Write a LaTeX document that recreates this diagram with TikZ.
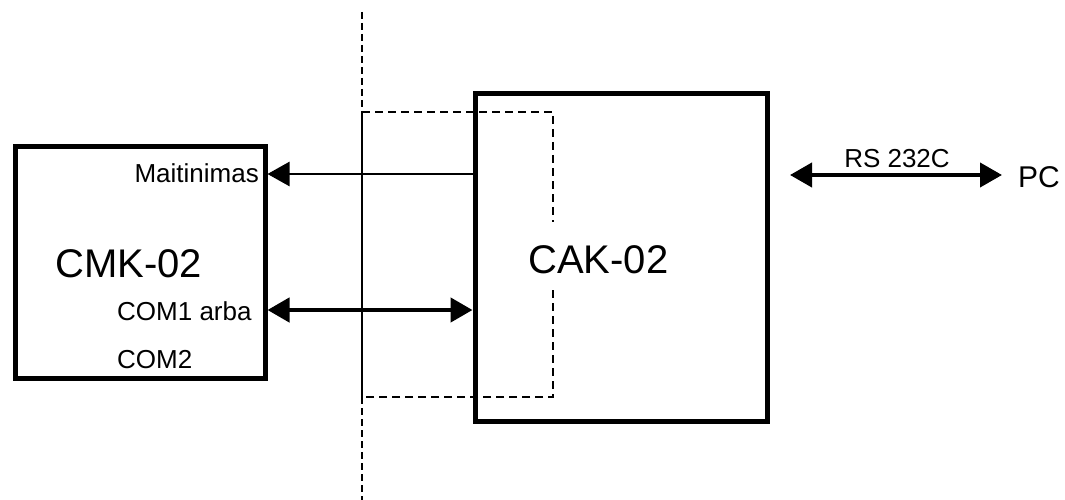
\documentclass[tikz,border=0pt]{standalone}
\usepackage{fontspec}
\setmainfont{Liberation Sans}
\usetikzlibrary{arrows.meta}
\begin{document}
\begin{tikzpicture}[x=1pt,y=-1pt,
  block/.style={draw, line width=5pt, inner sep=0pt},
  lbl/.style={inner sep=0pt, font=\fontsize{26}{26}\selectfont},
  big/.style={inner sep=0pt, font=\fontsize{40}{40}\selectfont},
  >={Triangle[length=22pt,width=24pt]},
  sepline/.style={line width=2.6pt, dash pattern=on 7pt off 4pt},
  zone/.style={line width=2.4pt, dash pattern=on 8pt off 5pt},
]
\useasboundingbox (0,0) rectangle (1065,500);

% boxes
\node[block, minimum width=249.5pt, minimum height=232pt] (cmk) at (140.25,262) {};
\node[block, minimum width=292pt, minimum height=327pt] (cak) at (621,257.5) {};

% separator and dashed zone
\draw[sepline] (362,12) -- (362,112);
\draw[sepline] (362,397) -- (362,500);
\draw[line width=2.6pt] (362,112) -- (362,397);
\draw[zone] (362,112) -- (553,112) -- (553,222);
\draw[zone] (553,290) -- (553,397) -- (362,397);

% texts
\node[big, anchor=base west] (cmkt) at (55,277) {CMK-02};
\node[big, anchor=base west] (cakt) at (528,273) {CAK-02};
\node[lbl, anchor=base east] (mait) at (259,182) {Maitinimas};
\node[lbl, anchor=base west] (com1) at (117,320) {COM1 arba};
\node[lbl, anchor=base west] (com2) at (117,368) {COM2};
\node[lbl, anchor=base] (rs) at (897,167) {RS 232C};
\node[inner ysep=0pt, inner xsep=16pt, anchor=base west, font=\fontsize{30}{30}\selectfont] (pc) at (1002,187) {PC};

% connectors
\coordinate (mrow) at (0,174);
\coordinate (crow) at (0,310);
\coordinate (rsl) at (790,175);
\draw[line width=2.5pt, ->] (cak.west |- mrow) -- (cmk.east |- mrow);
\draw[line width=4.5pt, <->] (cmk.east |- crow) -- (cak.west |- crow);
\draw[line width=4pt, <->] (rsl) -- (pc.west |- rsl);
\end{tikzpicture}
\end{document}
